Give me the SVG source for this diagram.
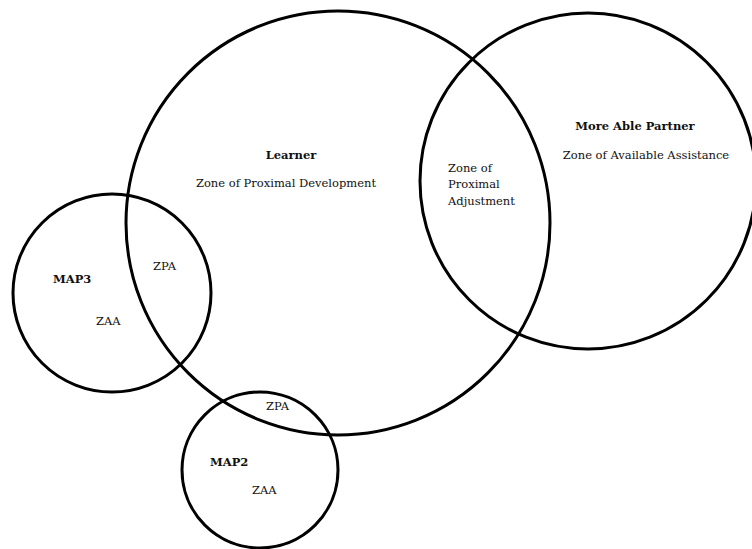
<svg xmlns="http://www.w3.org/2000/svg" width="752" height="549" viewBox="0 0 752 549">
  <style>
    .ring { fill: none; stroke: #000; stroke-width: 3; }
    .lbl { font-family: "DejaVu Serif", "Liberation Serif", serif; font-size: 11.5px; fill: #111; }
    .title { font-weight: bold; }
  </style>
  <rect width="752" height="549" fill="#fff"/>

  <g id="learner">
    <circle class="ring" cx="338" cy="223" r="212"/>
    <text class="lbl title" x="291" y="159" text-anchor="middle">Learner</text>
    <text class="lbl" x="286" y="187" text-anchor="middle">Zone of Proximal Development</text>
  </g>

  <g id="more-able-partner">
    <circle class="ring" cx="588" cy="181" r="168"/>
    <text class="lbl title" x="635" y="130" text-anchor="middle">More Able Partner</text>
    <text class="lbl" x="646" y="159" text-anchor="middle">Zone of Available Assistance</text>
  </g>

  <g id="proximal-adjustment">
    <text class="lbl" x="448" y="172">Zone of</text>
    <text class="lbl" x="448" y="188">Proximal</text>
    <text class="lbl" x="448" y="205">Adjustment</text>
  </g>

  <g id="map3">
    <circle class="ring" cx="112" cy="293" r="99"/>
    <text class="lbl title" x="53" y="283">MAP3</text>
    <text class="lbl" x="96" y="325">ZAA</text>
    <text class="lbl" x="153" y="270">ZPA</text>
  </g>

  <g id="map2">
    <circle class="ring" cx="260" cy="470" r="78"/>
    <text class="lbl title" x="210" y="466">MAP2</text>
    <text class="lbl" x="252" y="494">ZAA</text>
    <text class="lbl" x="266" y="410">ZPA</text>
  </g>
</svg>
